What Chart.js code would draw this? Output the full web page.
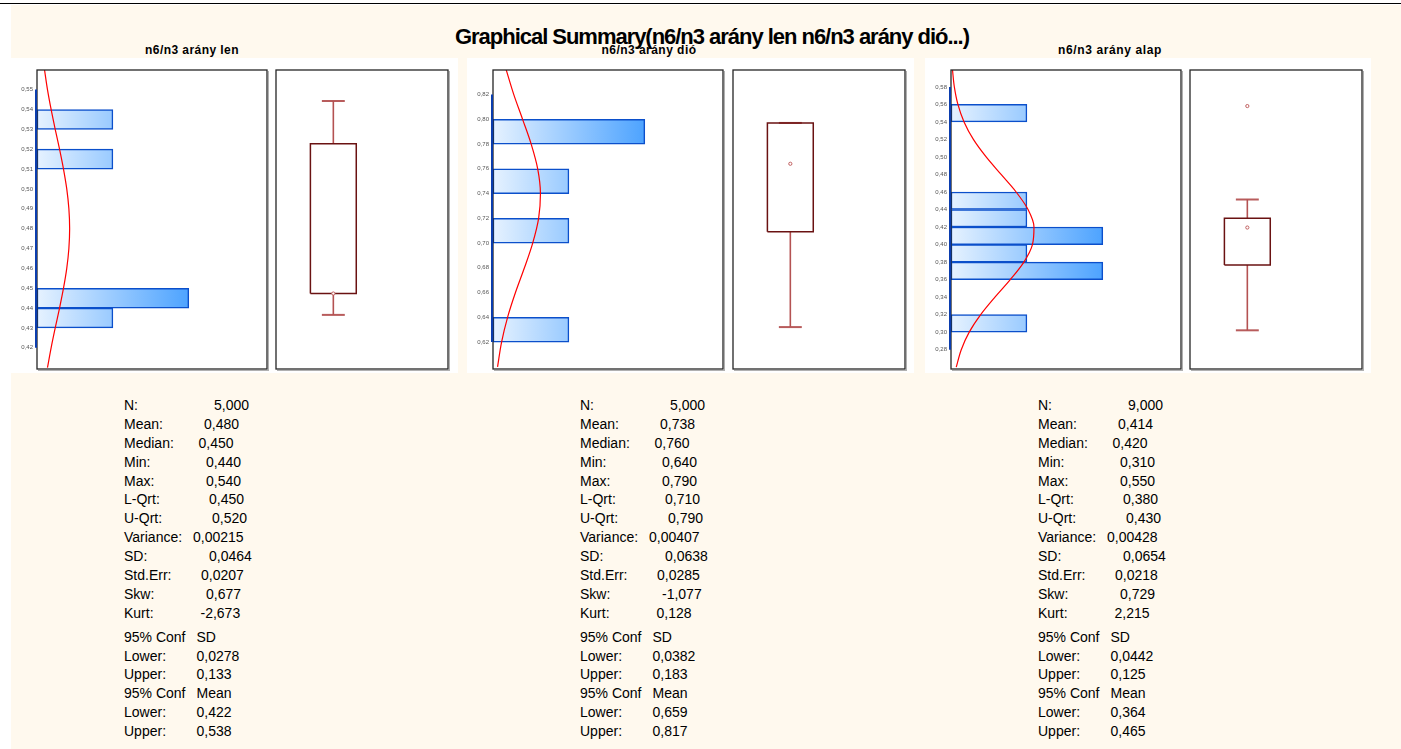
<!DOCTYPE html>
<html>
<head>
<meta charset="utf-8">
<script src="https://cdn.jsdelivr.net/npm/chart.js@4.4.0/dist/chart.umd.min.js"></script>
<style>
  body { margin:0; width:1401px; height:749px; background:#fff; position:relative; overflow:hidden;
         font-family:'Liberation Sans', Arial, sans-serif; }
  #topline { position:absolute; left:0; top:3px; width:1401px; height:1px; background:#000; }
  #cream { position:absolute; left:11px; top:5px; right:0; bottom:0; background:#FFF9EE; }
  .panel { position:absolute; top:58px; height:315px; background:#fff; }
  canvas { position:absolute; }
  .title { position:absolute; white-space:nowrap; font-weight:bold; color:#000; }
  .row { position:absolute; height:18px; line-height:18px; font-size:14px; color:#000; white-space:nowrap; }
  .row span { position:absolute; top:0; }
</style>
</head>
<body>
<div id="topline"></div>
<div id="cream"></div>
<div class="panel" style="left:11px;width:447px"></div>
<div class="panel" style="left:467px;width:447px"></div>
<div class="panel" style="left:925px;width:446px"></div>
<canvas id="h0"></canvas><canvas id="b0"></canvas>
<canvas id="h1"></canvas><canvas id="b1"></canvas>
<canvas id="h2"></canvas><canvas id="b2"></canvas>
<div id="texts"></div>
<script>
// ---------------- DATA ----------------
const mainTitle = 'Graphical Summary(n6/n3 arány len n6/n3 arány dió...)';
const panelNames = ['n6/n3 arány len', 'n6/n3 arány dió', 'n6/n3 arány alap'];

// histogram bins (lower edges) and counts
const lenBinLow  = [0.43, 0.44, 0.51, 0.53];
const lenCounts  = [1, 2, 1, 1];
const dioBinLow  = [0.62, 0.70, 0.74, 0.78];
const dioCounts  = [1, 1, 1, 2];
const alapBinLow = [0.30, 0.36, 0.38, 0.40, 0.42, 0.44, 0.54];
const alapCounts = [1, 2, 1, 2, 1, 1, 1];
const binWidths  = [0.01, 0.02, 0.02];

// y-axis tick labels
const lenTicks  = [0.42,0.43,0.44,0.45,0.46,0.47,0.48,0.49,0.50,0.51,0.52,0.53,0.54,0.55];
const dioTicks  = [0.62,0.64,0.66,0.68,0.70,0.72,0.74,0.76,0.78,0.80,0.82];
const alapTicks = [0.28,0.30,0.32,0.34,0.36,0.38,0.40,0.42,0.44,0.46,0.48,0.50,0.52,0.54,0.56,0.58];

// fitted normal curve: value levels and curve heights in counts
const lenCurveY  = [0.41,0.42,0.43,0.44,0.45,0.46,0.47,0.48,0.49,0.50,0.51,0.52,0.53,0.54,0.55,0.56];
const lenCurveX  = [0.138,0.186,0.240,0.297,0.349,0.392,0.420,0.430,0.420,0.392,0.349,0.297,0.240,0.186,0.138,0.099];
const dioCurveY  = [0.60,0.62,0.64,0.66,0.68,0.70,0.72,0.74,0.76,0.78,0.80,0.82,0.84];
const dioCurveX  = [0.060,0.113,0.192,0.296,0.414,0.523,0.601,0.625,0.589,0.503,0.390,0.274,0.174];
const alapCurveY = [0.26,0.28,0.30,0.32,0.34,0.36,0.38,0.40,0.42,0.44,0.46,0.48,0.50,0.52,0.54,0.56,0.58,0.60];
const alapCurveX = [0.069,0.135,0.240,0.391,0.579,0.781,0.960,1.073,1.093,1.015,0.858,0.660,0.463,0.295,0.172,0.091,0.044,0.019];

// box plots
const boxQ1      = [0.45, 0.71, 0.38];
const boxQ3      = [0.52, 0.79, 0.43];
const whiskerLo  = [0.44, 0.64, 0.31];
const whiskerHi  = [0.54, 0.79, 0.45];
const medians    = [0.45, 0.76, 0.42];
const outliers   = [[], [], [0.55]];

// summary statistics
const statLabels = ['N:','Mean:','Median:','Min:','Max:','L-Qrt:','U-Qrt:','Variance:','SD:','Std.Err:','Skw:','Kurt:','95% Conf','Lower:','Upper:','95% Conf','Lower:','Upper:'];
const lenStats   = ['5,000','0,480','0,450','0,440','0,540','0,450','0,520','0,00215','0,0464','0,0207','0,677','-2,673','SD','0,0278','0,133','Mean','0,422','0,538'];
const dioStats   = ['5,000','0,738','0,760','0,640','0,790','0,710','0,790','0,00407','0,0638','0,0285','-1,077','0,128','SD','0,0382','0,183','Mean','0,659','0,817'];
const alapStats  = ['9,000','0,414','0,420','0,310','0,550','0,380','0,430','0,00428','0,0654','0,0218','0,729','2,215','SD','0,0442','0,125','Mean','0,364','0,465'];

// ---------------- LAYOUT ----------------
const panelLeft = [11, 467, 925];
const histLeft  = [37, 493, 951];   // chart-area left
const boxLeft   = [276, 733, 1190];
const histW = 230, boxW = 172, areaTop = 70, areaH = 299;
const yRanges = [[0.4147, 0.5545], [0.6092, 0.8289], [0.2686, 0.5886]];
const titleCenters = [192, 649, 1110];
const titleWidths  = [94, 95, 104];
const valueOffsets = [90,80,74.5,82,82,85,88,69,85,77,82,76.5,72.5,72.5,72.5,72.5,72.5,72.5];

const FONT = "'Liberation Sans', Arial, sans-serif";

const framePlugin = {
  id: 'frame',
  afterDraw(chart, args, opts) {
    const { ctx, chartArea: a } = chart;
    ctx.save();
    ctx.strokeStyle = '#b0b0b0'; ctx.lineWidth = 1.2;
    ctx.beginPath();
    ctx.moveTo(a.right + 1.5, a.top + 1);
    ctx.lineTo(a.right + 1.5, a.bottom + 1.5);
    ctx.lineTo(a.left + 1, a.bottom + 1.5);
    ctx.stroke();
    ctx.strokeStyle = '#262626'; ctx.lineWidth = 1.3;
    ctx.strokeRect(a.left, a.top, a.right - a.left, a.bottom - a.top);
    if (opts && opts.axisLine) {
      const ys = chart.scales.y;
      const t = ys.ticks;
      ctx.strokeStyle = '#0B3DAE'; ctx.lineWidth = 2;
      ctx.beginPath();
      ctx.moveTo(a.left - 1, ys.getPixelForValue(t[0].value));
      ctx.lineTo(a.left - 1, ys.getPixelForValue(t[t.length - 1].value));
      ctx.stroke();
    }
    ctx.restore();
  }
};

function barGradient(context) {
  const chart = context.chart;
  if (!chart.chartArea) return '#A8D0FF';
  const xs = chart.scales.x;
  const g = chart.ctx.createLinearGradient(xs.getPixelForValue(0), 0, xs.getPixelForValue(2), 0);
  g.addColorStop(0, '#E6F2FF');
  g.addColorStop(1, '#4DA3FF');
  return g;
}

function makeHist(i, binLow, counts, ticks, curveY, curveX) {
  const cv = document.getElementById('h' + i);
  cv.width = 26 + histW + 2; cv.height = areaH + 4;
  cv.style.left = (histLeft[i] - 26) + 'px'; cv.style.top = (areaTop - 2) + 'px';
  const bw = binWidths[i];
  new Chart(cv, {
    type: 'bar',
    data: {
      datasets: [
        { type: 'line', data: curveY.map((y, k) => ({ x: curveX[k], y })),
          borderColor: '#FF0000', borderWidth: 1.2, pointRadius: 0,
          tension: 0.4, cubicInterpolationMode: 'monotone', order: 0 },
        { type: 'bar', data: binLow.map((b, k) => ({ y: b + bw / 2, x: counts[k] })),
          backgroundColor: barGradient, borderColor: '#0B4FCB', borderWidth: 1.5,
          borderSkipped: false, barPercentage: 1, categoryPercentage: 1, order: 1 }
      ]
    },
    options: {
      indexAxis: 'y', responsive: false, animation: false,
      layout: { padding: { left: 2, right: 2, top: 2, bottom: 2 }, autoPadding: false },
      plugins: { legend: { display: false }, tooltip: { enabled: false }, frame: { axisLine: true } },
      scales: {
        x: { type: 'linear', min: 0, max: 3.03, display: false },
        y: { type: 'linear', min: yRanges[i][0], max: yRanges[i][1],
             afterFit: s => { s.width = 24; s.paddingTop = 0; s.paddingBottom = 0; },
             afterBuildTicks: s => { s.ticks = ticks.map(v => ({ value: v })); },
             grid: { display: false, drawTicks: false }, border: { display: false },
             ticks: { font: { size: 6, family: FONT }, color: '#555', padding: 4, autoSkip: false,
                      callback: v => Number(v).toFixed(2).replace('.', ',') } }
      }
    },
    plugins: [framePlugin]
  });
}

function makeBox(i) {
  const cv = document.getElementById('b' + i);
  cv.width = boxW + 4; cv.height = areaH + 4;
  cv.style.left = (boxLeft[i] - 2) + 'px'; cv.style.top = (areaTop - 2) + 'px';
  const q1 = boxQ1[i], q3 = boxQ3[i], lo = whiskerLo[i], hi = whiskerHi[i];
  const whisk = { type: 'line', borderColor: '#B45252', borderWidth: 1.6, pointRadius: 0, tension: 0, order: 2 };
  const cap = { type: 'line', borderColor: '#B85C5C', borderWidth: 2, pointRadius: 0, tension: 0, order: 2 };
  const pts = { type: 'line', showLine: false, pointRadius: 1.6, pointStyle: 'circle',
                pointBorderColor: '#C06060', pointBackgroundColor: '#fff', pointBorderWidth: 1, order: 0 };
  new Chart(cv, {
    type: 'line',
    data: {
      datasets: [
        Object.assign({}, pts, { data: [{ x: 1, y: medians[i] }].concat(outliers[i].map(v => ({ x: 1, y: v }))) }),
        { type: 'line', data: [{x:0.6,y:q1},{x:1.4,y:q1},{x:1.4,y:q3},{x:0.6,y:q3},{x:0.6,y:q1}],
          borderColor: '#6A1212', borderWidth: 1.5, pointRadius: 0, tension: 0, order: 1 },
        Object.assign({}, whisk, { data: [{ x: 1, y: q3 }, { x: 1, y: hi }] }),
        Object.assign({}, whisk, { data: [{ x: 1, y: q1 }, { x: 1, y: lo }] }),
        Object.assign({}, cap, { data: [{ x: 0.8, y: hi }, { x: 1.2, y: hi }] }),
        Object.assign({}, cap, { data: [{ x: 0.8, y: lo }, { x: 1.2, y: lo }] })
      ]
    },
    options: {
      responsive: false, animation: false,
      layout: { padding: 2, autoPadding: false },
      plugins: { legend: { display: false }, tooltip: { enabled: false }, frame: {} },
      scales: {
        x: { type: 'linear', min: 0, max: 3, display: false },
        y: { type: 'linear', min: yRanges[i][0], max: yRanges[i][1], display: false }
      }
    },
    plugins: [framePlugin]
  });
}

makeHist(0, lenBinLow, lenCounts, lenTicks, lenCurveY, lenCurveX);
makeHist(1, dioBinLow, dioCounts, dioTicks, dioCurveY, dioCurveX);
makeHist(2, alapBinLow, alapCounts, alapTicks, alapCurveY, alapCurveX);
makeBox(0); makeBox(1); makeBox(2);

// ---------------- TEXT ----------------
const texts = document.getElementById('texts');
function fitSpacing(el, target) {
  const w = el.getBoundingClientRect().width;
  const n = el.textContent.length;
  el.style.letterSpacing = ((target - w) / n) + 'px';
}
const mt = document.createElement('div');
mt.className = 'title'; mt.textContent = mainTitle;
mt.style.cssText = 'left:455px;top:26px;font-size:22px;line-height:22px;';
texts.appendChild(mt); fitSpacing(mt, 514);

panelNames.forEach((name, i) => {
  const d = document.createElement('div');
  d.className = 'title'; d.textContent = name;
  d.style.cssText = `left:${titleCenters[i] - titleWidths[i] / 2}px;top:44px;font-size:12px;line-height:13px;`;
  texts.appendChild(d); fitSpacing(d, titleWidths[i]);
});

[lenStats, dioStats, alapStats].forEach((vals, p) => {
  const x0 = panelLeft[p] + 113;
  statLabels.forEach((lab, r) => {
    const cy = r < 12 ? 405 + r * 18.88 : 636.7 + (r - 12) * 18.8;
    const row = document.createElement('div');
    row.className = 'row';
    row.style.left = x0 + 'px'; row.style.top = (cy - 9) + 'px';
    const a = document.createElement('span'); a.textContent = lab; a.style.left = '0px';
    const b = document.createElement('span'); b.textContent = vals[r]; b.style.left = valueOffsets[r] + 'px';
    row.appendChild(a); row.appendChild(b);
    texts.appendChild(row);
  });
});
</script>
</body>
</html>
